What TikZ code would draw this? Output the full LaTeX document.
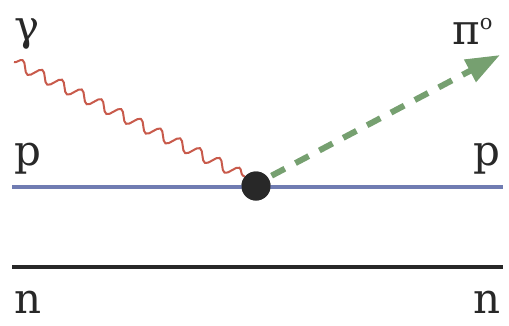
\documentclass[tikz,border=0pt]{standalone}
\usepackage{fontspec}
\newfontfamily\lblfont{DejaVu Serif}
\usetikzlibrary{decorations.pathmorphing,arrows.meta}
\definecolor{protonblue}{RGB}{112,124,178}
\definecolor{neutrondark}{RGB}{40,40,40}
\definecolor{photonred}{RGB}{200,90,75}
\definecolor{piongreen}{RGB}{118,160,112}
\begin{document}
\begin{tikzpicture}[x=1pt,y=-1pt,
  lbl/.style={font=\lblfont\fontsize{42}{42}\selectfont, inner sep=0pt, text=neutrondark},
  fermion/.style={line width=4.5pt},
  photon/.style={draw=photonred, line width=2pt, decorate, decoration={snake, segment length=22pt, amplitude=5.5pt}},
  pion/.style={draw=piongreen, line width=6pt, dash pattern=on 15pt off 12pt, -{Triangle[length=34pt,width=24pt]}}]
\useasboundingbox (0,0) rectangle (509,325);
\coordinate (pl) at (12,187);
\coordinate (pr) at (503,187);
\coordinate (nl) at (12,267);
\coordinate (nr) at (503,267);
\coordinate (gs) at (14,62);
\coordinate (pe) at (500,55);
\node[circle, fill=neutrondark, minimum size=29pt, inner sep=0pt] (v) at (256,186) {};
\draw[fermion, draw=protonblue] (pl) -- (pr);
\draw[fermion, draw=neutrondark] (nl) -- (nr);
\draw[photon] (gs) -- (v.140);
\draw[pion, shorten <=4pt] (v.35) -- (pe);
\node[circle, fill=neutrondark, minimum size=29pt, inner sep=0pt] at (v) {};
\node[lbl, anchor=base west] (g) at (14,40) {γ};
\node[lbl, anchor=base west] (pi) at (452,44) {π\raisebox{15pt}{\fontsize{21}{21}\selectfont o}};
\node[lbl, anchor=base west] (p1) at (14,165) {p};
\node[lbl, anchor=base east] (p2) at (501,165) {p};
\node[lbl, anchor=base west] (n1) at (14,313) {n};
\node[lbl, anchor=base east] (n2) at (501,313) {n};
\end{tikzpicture}
\end{document}
